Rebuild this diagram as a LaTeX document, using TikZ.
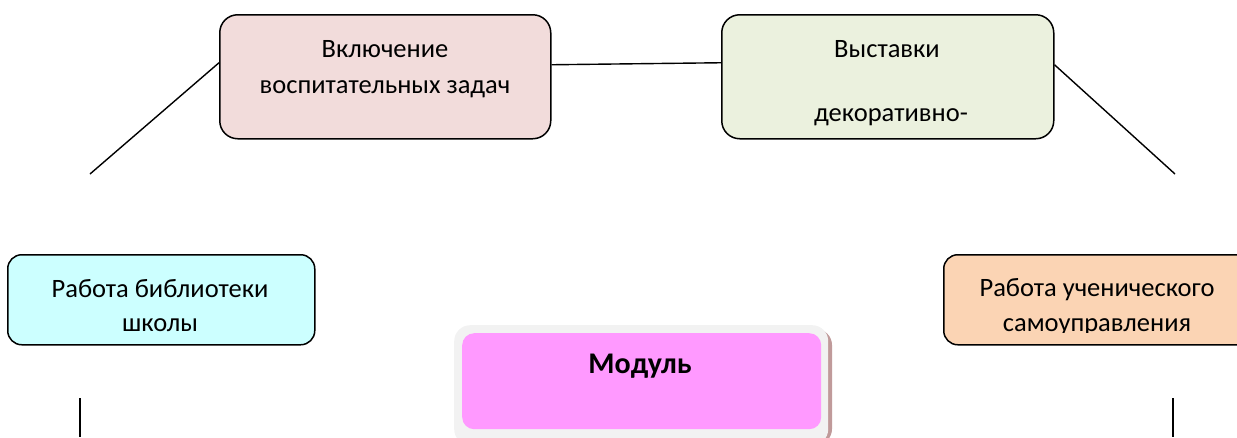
\documentclass[tikz,border=0pt]{standalone}
\usepackage{fontspec}
\setmainfont{Carlito}
\usetikzlibrary{calc}
\definecolor{pinkfill}{HTML}{F2DCDB}
\definecolor{greenfill}{HTML}{EBF1DE}
\definecolor{cyanfill}{HTML}{CCFFFF}
\definecolor{orangefill}{HTML}{FBD4B4}
\definecolor{modfill}{HTML}{FF99FF}
\definecolor{modrim}{HTML}{F2F2F2}
\definecolor{modshadow}{HTML}{C09A9A}
\tikzset{
  box/.style={draw=black, line width=1.5pt, rounded corners=18pt},
  conn/.style={draw=black, line width=1.4pt},
  txt/.style={inner sep=0pt, anchor=base, font=\fontsize{26.5}{30}\selectfont},
}
\begin{document}
\begin{tikzpicture}[x=1pt,y=-1pt]
\useasboundingbox (0,0) rectangle (1237,437);
% boxes
\node[box, fill=pinkfill, minimum width=331pt, minimum height=124pt, anchor=north west] (pink) at (219,14) {};
\node[box, fill=greenfill, minimum width=332pt, minimum height=124pt, anchor=north west] (green) at (721,14) {};
\node[box, fill=cyanfill, rounded corners=14pt, minimum width=307pt, minimum height=90pt, anchor=north west] (cyan) at (7,254) {};
\node[box, fill=orangefill, rounded corners=14pt, minimum width=320pt, minimum height=90pt, anchor=north west] (orange) at (943,254) {};
% module box
\fill[modshadow, rounded corners=16pt] (458,329) rectangle (832,445);
\node[fill=modrim, rounded corners=16pt, minimum width=374pt, minimum height=120pt, anchor=north west, inner sep=0pt] (modrimbox) at (454,325) {};
\node[fill=modfill, rounded corners=12pt, minimum width=359pt, minimum height=96pt, anchor=north west, inner sep=0pt] (mod) at (462,333) {};
% texts
\node[txt] (pinkt1) at (385,57) {Включение};
\node[txt] (pinkt2) at (385,93) {воспитательных задач};
\node[txt] (greent1) at (887,57) {Выставки};
\node[txt] (greent2) at (891,121) {декоративно-};
\node[txt] (cyant1) at (160,297) {Работа библиотеки};
\node[txt] (cyant2) at (160,331) {школы};
\node[txt] (oranget1) at (1097,296) {Работа ученического};
\begin{scope}
\clip (940,300) rectangle (1237,332);
\node[txt] (oranget2) at (1097,331) {самоуправления};
\end{scope}
\node[txt, font=\fontsize{30}{34}\selectfont\bfseries] (modt) at (640,373) {Модуль};
% connectors
\coordinate (lfree) at (90,174);
\coordinate (rfree) at (1175,174);
\coordinate (lv1) at (80,398);
\coordinate (lv2) at (80,437);
\coordinate (rv1) at (1173,398);
\coordinate (rv2) at (1173,437);
\draw[conn] (lfree) -- ([yshift=14pt]pink.west);
\draw[conn] ([yshift=12pt]pink.east) -- ([yshift=14pt]green.west);
\draw[conn] ([yshift=12pt]green.east) -- (rfree);
\draw[conn] (lv1) -- (lv2);
\draw[conn] (rv1) -- (rv2);
\end{tikzpicture}
\end{document}
